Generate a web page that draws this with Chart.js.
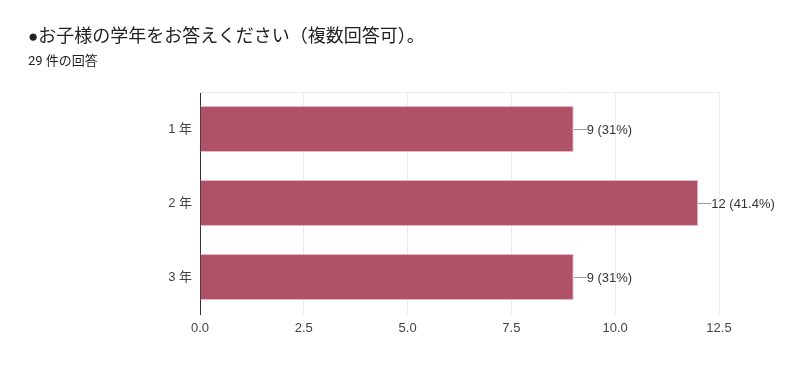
<!DOCTYPE html>
<html>
<head>
<meta charset="utf-8">
<script src="https://cdn.jsdelivr.net/npm/chart.js@4"></script>
<style>
  body { margin: 0; background: #fff; }
  #wrap { position: relative; width: 800px; height: 369px; }
  #title { position: absolute; left: 28px; top: 23px; font-size: 18px; line-height: 26px; color: #202124; font-family: Roboto, "Noto Sans CJK JP", sans-serif; }
  #title .dot { font-family: "Liberation Sans", sans-serif; font-size: 17px; line-height: 1; }
  #sub { position: absolute; left: 28px; top: 50px; font-size: 13px; color: #202124; font-family: Roboto, "Noto Sans CJK JP", sans-serif; }
</style>
</head>
<body>
<div id="wrap">
  <div id="title"><span class="dot">●</span>お子様の学年をお答えください（複数回答可）。</div>
  <div id="sub">29 件の回答</div>
  <canvas id="myChart" width="800" height="369"></canvas>
</div>
<script>
const grades = ['1 年', '2 年', '3 年'];
const counts = [9, 12, 9];
const labels = ['9 (31%)', '12 (41.4%)', '9 (31%)'];
const xTicks = [0, 2.5, 5, 7.5, 10, 12.5];

const font = "'Liberation Sans', 'Noto Sans CJK JP', sans-serif";

const valueLabels = {
  id: 'valueLabels',
  afterDatasetsDraw(chart) {
    const ctx = chart.ctx;
    const meta = chart.getDatasetMeta(0);
    const area = chart.chartArea;
    ctx.save();
    // top border line
    ctx.strokeStyle = '#ebebeb';
    ctx.lineWidth = 1;
    ctx.beginPath();
    ctx.moveTo(area.left, area.top + 0.5);
    ctx.lineTo(area.right, area.top + 0.5);
    ctx.stroke();
    ctx.font = '13px ' + font;
    ctx.fillStyle = '#333';
    ctx.textBaseline = 'middle';
    meta.data.forEach((bar, i) => {
      const y = Math.round(bar.y) + 0.5;
      ctx.strokeStyle = '#999';
      ctx.beginPath();
      ctx.moveTo(bar.x, y);
      ctx.lineTo(bar.x + 13, y);
      ctx.stroke();
      ctx.fillText(labels[i], bar.x + 13, bar.y + 1);
    });
    ctx.restore();
  }
};

const ctx1 = document.getElementById('myChart');
new Chart(ctx1, {
  type: 'bar',
  data: {
    labels: grades,
    datasets: [
      {
        data: counts,
        backgroundColor: '#af5267',
        borderColor: '#e8b7c2',
        borderWidth: 1,
        borderSkipped: 'left',
        categoryPercentage: 1,
        barPercentage: 0.62
      }
    ]
  },
  options: {
    indexAxis: 'y',
    responsive: false,
    animation: false,
    layout: { padding: { top: 92, right: 81, bottom: 0, left: 0 } },
    plugins: {
      legend: { display: false },
      tooltip: { enabled: false }
    },
    scales: {
      x: {
        min: 0,
        max: 12.5,
        afterBuildTicks: (scale) => { scale.ticks = xTicks.map(v => ({ value: v })); },
        afterFit: (scale) => { scale.height = 55; },
        ticks: {
          color: '#444',
          font: { size: 13, family: font },
          padding: 7,
          callback: (v) => Number(v).toFixed(1)
        },
        grid: { color: '#ebebeb', drawTicks: false },
        border: { display: false }
      },
      y: {
        afterFit: (scale) => { scale.width = 200; },
        ticks: {
          color: '#444',
          font: { size: 13, family: font },
          padding: 8
        },
        grid: { display: false, drawTicks: false },
        border: { display: true, color: '#333', width: 1 }
      }
    }
  },
  plugins: [valueLabels]
});
</script>
</body>
</html>
